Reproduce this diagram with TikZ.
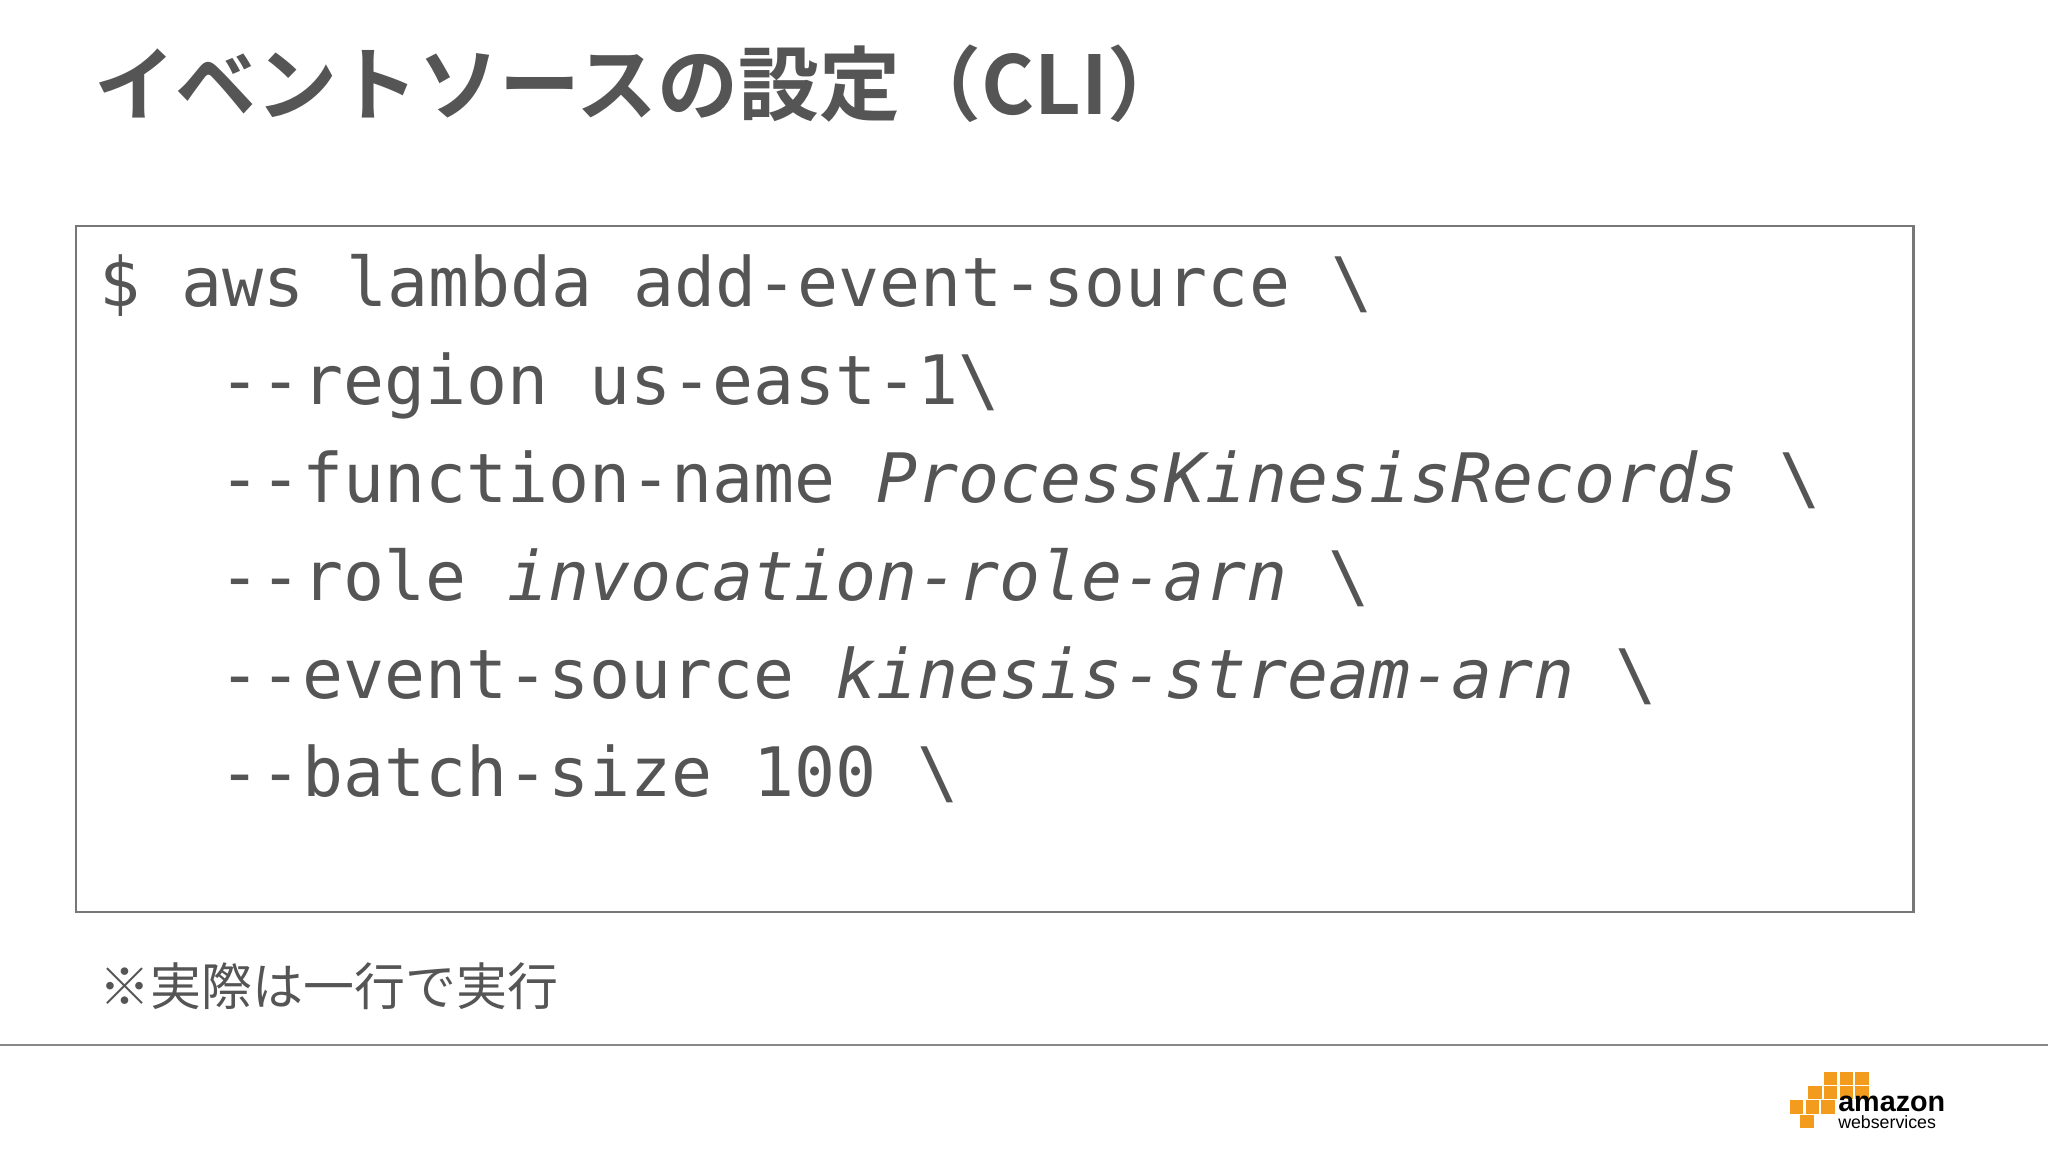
\documentclass[tikz,border=0pt]{standalone}
\usepackage{fontspec}
\setmonofont{DejaVu Sans Mono}
\setsansfont{Liberation Sans}
\newfontfamily\cjk{Noto Sans CJK JP}
\newfontfamily\cjkb{Noto Sans CJK JP Bold}
\definecolor{txt}{HTML}{555555}
\definecolor{awsor}{HTML}{F29B1D}
\begin{document}
\begin{tikzpicture}[x=0.5pt,y=-0.5pt,
  code/.style={anchor=base west,inner sep=0pt,font=\fontsize{26.1}{30}\ttfamily,text=txt},
  cube/.style={fill=awsor,draw=white,line width=0.3pt}]
\useasboundingbox (0,0) rectangle (1568,882);
\fill[white] (0,0) rectangle (1568,882);
\node[anchor=base west,inner sep=0pt,text=txt,font=\fontsize{31}{36}\cjkb] (title) at (72,88) {イベントソースの設定（CLI）};
\draw[draw=txt!80,line width=0.8pt] (58,173) rectangle (1465,698);
\node[code] (l1) at (76,235) {\$ aws lambda add-event-source \textbackslash};
\node[code] (l2) at (168,310) {--region us-east-1\textbackslash};
\node[code] (l3) at (168,385) {--function-name \textit{ProcessKinesisRecords} \textbackslash};
\node[code] (l4) at (168,460) {--role \textit{invocation-role-arn} \textbackslash};
\node[code] (l5) at (168,535) {--event-source \textit{kinesis-stream-arn} \textbackslash};
\node[code] (l6) at (168,610) {--batch-size 100 \textbackslash};
\node[anchor=base west,inner sep=0pt,text=txt,font=\fontsize{19.5}{22}\cjk] (note) at (76,770) {※実際は一行で実行};
\draw[txt!70,line width=0.6pt] (0,800) -- (1568,800);
% aws logo
\foreach \x/\y in {1396/820,1408/820,1420/820,1384/831,1396/831,1408/831,1420/831,1370/842,1382/842,1394/842,1378/853}
  \draw[cube] (\x,\y) rectangle ++(11,11);
\node[anchor=base west,inner sep=0pt,font=\fontsize{11}{13}\sffamily\bfseries] (amz) at (1407,851) {amazon};
\node[anchor=base west,inner sep=0pt,font=\fontsize{6.8}{8}\sffamily] (ws) at (1407,864) {webservices};
\end{tikzpicture}
\end{document}
